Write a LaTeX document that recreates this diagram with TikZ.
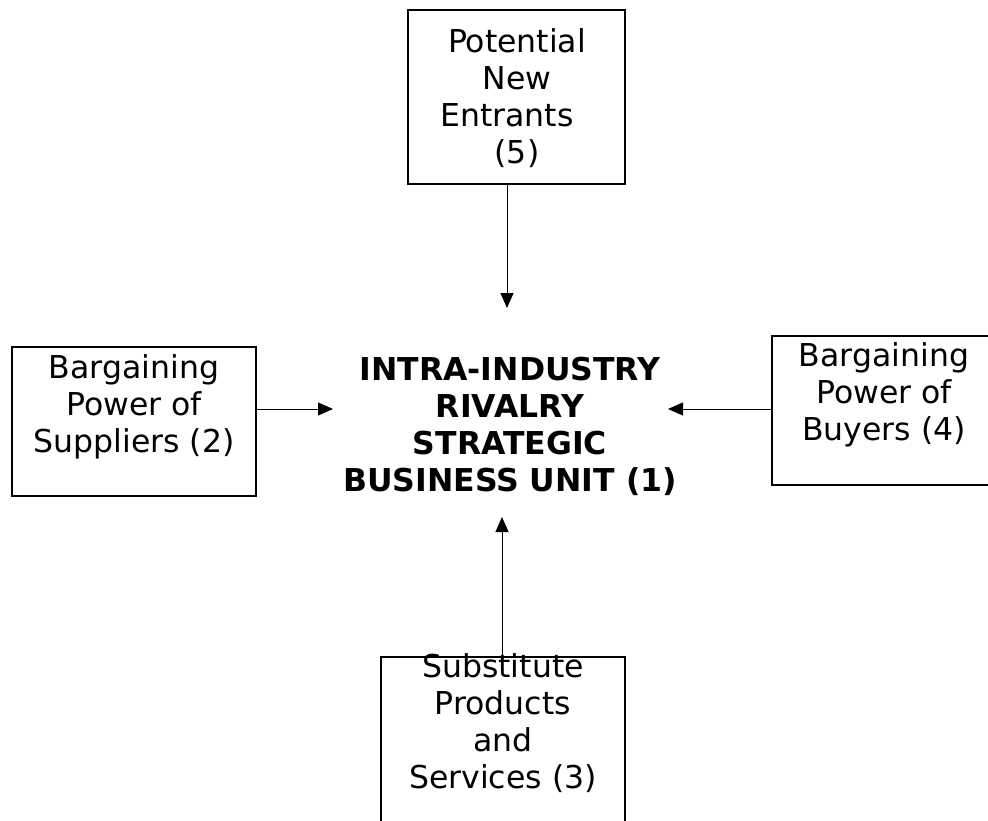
\documentclass[tikz,border=0pt]{standalone}
\usepackage{fontspec}
\setmainfont{DejaVu Sans}
\usetikzlibrary{arrows.meta}
\begin{document}
\begin{tikzpicture}[x=1pt,y=-1pt,
  box/.style={draw=black,line width=2.5pt,rectangle,inner sep=0pt},
  lbl/.style={align=center,inner sep=0pt,anchor=base,font=\fontsize{31.5}{37}\selectfont},
  arr/.style={line width=1pt,-{Triangle[length=15pt,width=13pt]}}]
\useasboundingbox (0,0) rectangle (988,821);
% boxes
\node[box,minimum width=217pt,minimum height=174pt] (pne) at (516.5,97) {};
\node[box,minimum width=244pt,minimum height=149pt] (sup) at (134,421.5) {};
\node[box,minimum width=223pt,minimum height=149pt] (buy) at (883.5,410.5) {};
\node[box,minimum width=244pt,minimum height=173pt] (sub) at (503,743.5) {};
% texts (anchor=base is the baseline of the last line)
\node[lbl] (pnet) at (517,164) {Potential\\New\\\hbox{Entrants\hspace{20pt}}\\(5)};
\node[lbl] (supt) at (134,452) {Bargaining\\Power of\\Suppliers (2)};
\node[lbl] (buyt) at (884,440) {Bargaining\\Power of\\Buyers (4)};
\node[lbl] (subt) at (503,788) {Substitute\\Products\\and\\Services (3)};
\node[lbl,font=\fontsize{31.5}{36.7}\selectfont\bfseries] (rival) at (510,491) {INTRA-INDUSTRY\\RIVALRY\\STRATEGIC\\BUSINESS UNIT (1)};
% arrow end points
\coordinate (tA) at (507,308);
\coordinate (tB) at (333,409);
\coordinate (tC) at (668,409);
\coordinate (tD) at (502,517);
\draw[arr] (pne.south -| tA) -- (tA);
\draw[arr] (sup.east |- tB) -- (tB);
\draw[arr] (buy.west |- tC) -- (tC);
\draw[arr] (sub.north -| tD) -- (tD);
\end{tikzpicture}
\end{document}
